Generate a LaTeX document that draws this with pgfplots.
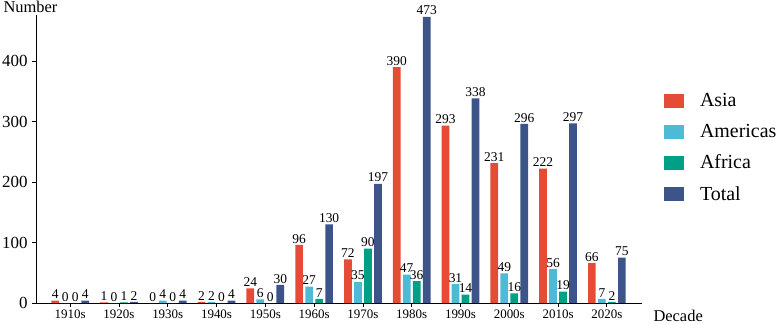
\documentclass[border=0pt]{standalone}
\usepackage{pgfplots}
\usepackage{pgfplotstable}
\pgfplotsset{compat=1.18}
\usepackage{fontspec}
\setmainfont{Liberation Serif}
\definecolor{cAsia}{HTML}{E64B35}
\definecolor{cAmer}{HTML}{4DBBD5}
\definecolor{cAfr}{HTML}{00A087}
\definecolor{cTot}{HTML}{3C5488}
\pgfplotstableread{
x asia amer afr total
0 4 0 0 4
1 1 0 1 2
2 0 4 0 4
3 2 2 0 4
4 24 6 0 30
5 96 27 7 130
6 72 35 90 197
7 390 47 36 473
8 293 31 14 338
9 231 49 16 296
10 222 56 19 297
11 66 7 2 75
}\data
\begin{document}
\begin{tikzpicture}
\begin{axis}[
  scale only axis,
  width=606bp, height=288bp,
  xmin=-0.7, xmax=11.72,
  ymin=0, ymax=476,
  axis x line*=bottom, axis y line*=left,
  axis line style={line width=1pt},
  every tick/.style={black, line width=0.8pt},
  tick align=outside,
  major tick length=4bp,
  xtick=data,
  xticklabels={1910s,1920s,1930s,1940s,1950s,1960s,1970s,1980s,1990s,2000s,2010s,2020s},
  ytick={0,100,200,300,400},
  y tick label style={font=\fontsize{17}{20}\selectfont, xshift=-1bp},
  x tick label style={font=\fontsize{13}{16}\selectfont, yshift=1bp},
  /pgf/number format/assume math mode=true,
  ybar=2.3bp, bar width=7.7bp,
  legend image code/.code={\path[#1,draw=none] (0bp,-7bp) rectangle (20bp,7bp);},
  nodes near coords,
  every node near coord/.append style={font=\fontsize{13.5}{15}\selectfont, black, inner sep=1.5bp},
  ylabel={Number},
  ylabel style={rotate=-90, at={(axis description cs:0,1)}, anchor=base west, xshift=-36bp, yshift=2bp, font=\fontsize{16.5}{19}\selectfont},
  xlabel={Decade},
  xlabel style={at={(axis description cs:1,0)}, anchor=base west, xshift=8bp, yshift=-18bp, font=\fontsize{16.5}{19}\selectfont},
  legend style={at={(1.036,0.735)}, anchor=north west, draw=none, fill=none,
    font=\fontsize{20}{24}\selectfont, row sep=12bp, inner sep=0pt,
    nodes={inner sep=2bp}},
  legend cell align=left,
  /tikz/every odd column/.append style={column sep=14bp},
  clip=false,
]
\addplot[fill=cAsia, draw=none] table[x=x, y=asia] {\data};
\addplot[fill=cAmer, draw=none] table[x=x, y=amer] {\data};
\addplot[fill=cAfr, draw=none] table[x=x, y=afr] {\data};
\addplot[fill=cTot, draw=none] table[x=x, y=total] {\data};
\legend{Asia,Americas,Africa,Total}
\end{axis}
\pgfresetboundingbox
\useasboundingbox (-36bp,-22bp) rectangle (748bp,303bp);
\end{tikzpicture}
\end{document}
